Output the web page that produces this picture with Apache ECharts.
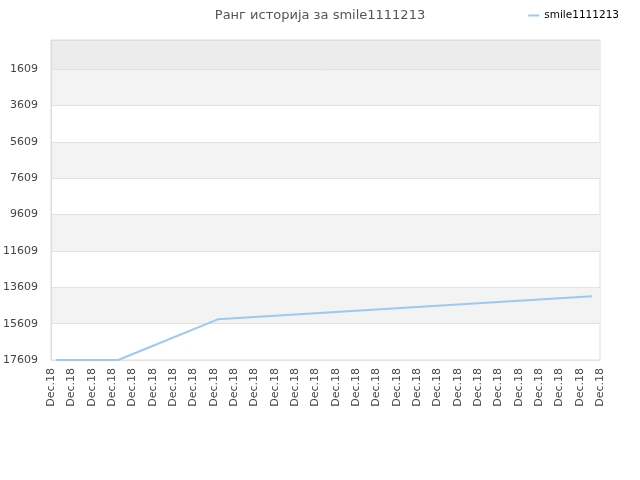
<!DOCTYPE html>
<html>
<head>
<meta charset="utf-8">
<script src="https://cdn.jsdelivr.net/npm/echarts@6/dist/echarts.min.js"></script>
<style>html,body{margin:0;padding:0;background:#fff}#c{width:640px;height:480px}</style>
</head>
<body>
<div id="c"></div>
<script>
// x tick labels (one per day tick)
var xLabels = ["Dec.18","Dec.18","Dec.18","Dec.18","Dec.18","Dec.18","Dec.18","Dec.18","Dec.18","Dec.18",
               "Dec.18","Dec.18","Dec.18","Dec.18","Dec.18","Dec.18","Dec.18","Dec.18","Dec.18","Dec.18",
               "Dec.18","Dec.18","Dec.18","Dec.18","Dec.18","Dec.18","Dec.18","Dec.18"];
// y tick labels (rank values)
var yTicks = [1609, 3609, 5609, 7609, 9609, 11609, 13609, 15609, 17609];
// series: time positions (in tick units) and rank values
var times = [0.25, 3.3, 8.2, 26.6];
var ranks = [17609, 17609, 15370, 14100];
var seriesName = "smile1111213";
var titleText = "Ранг историја за smile1111213";

var data = times.map(function (t, i) { return [t, ranks[i]]; });

var bands = [[{ yAxis: 0, itemStyle: { color: '#ececec' } }, { yAxis: yTicks[0] }]];
for (var i = 0; i + 1 < yTicks.length; i += 2) {
  bands.push([{ yAxis: yTicks[i], itemStyle: { color: '#f3f3f3' } }, { yAxis: yTicks[i + 1] }]);
}

var chart = echarts.init(document.getElementById('c'));
chart.setOption({
  animation: false,
  title: {
    text: titleText, left: 'center', top: 4,
    textStyle: { fontFamily: 'DejaVu Sans', fontSize: 13, fontWeight: 'normal', color: '#555' }
  },
  legend: {
    data: [seriesName], right: 16, top: 5,
    icon: 'rect', itemWidth: 11, itemHeight: 2, itemGap: 8,
    textStyle: { fontFamily: 'DejaVu Sans', fontSize: 10.5, color: '#000' }
  },
  grid: { left: 51, right: 40, top: 40, bottom: 120, show: true, borderColor: '#ddd', borderWidth: 1, backgroundColor: 'transparent' },
  xAxis: {
    type: 'value', min: 0, max: xLabels.length - 1, interval: 1, z: 2,
    axisLine: { show: true, lineStyle: { color: '#ddd' } },
    axisTick: { show: false },
    splitLine: { show: false },
    axisLabel: {
      rotate: 90, margin: 8, fontFamily: 'DejaVu Sans', fontSize: 11, color: '#444',
      formatter: function (v) { return xLabels[Math.round(v)]; }
    }
  },
  yAxis: {
    type: 'value', inverse: true, min: 0, max: yTicks[yTicks.length - 1], z: 2,
    axisLine: { show: true, lineStyle: { color: '#ddd' } },
    axisTick: { show: false, customValues: yTicks },
    splitLine: { show: true, lineStyle: { color: '#e2e2e2' } },
    axisLabel: {
      customValues: yTicks, margin: 13, fontFamily: 'DejaVu Sans', fontSize: 11, color: '#444',
      formatter: function (v) { return String(v); }
    }
  },
  series: [{
    name: seriesName, type: 'line', data: data, z: 3, clip: false,
    symbol: 'none', color: '#9ec8f2',
    lineStyle: { width: 2, color: '#9ec8f2' },
    markArea: { silent: true, z: 1, data: bands }
  }]
});
</script>
</body>
</html>
